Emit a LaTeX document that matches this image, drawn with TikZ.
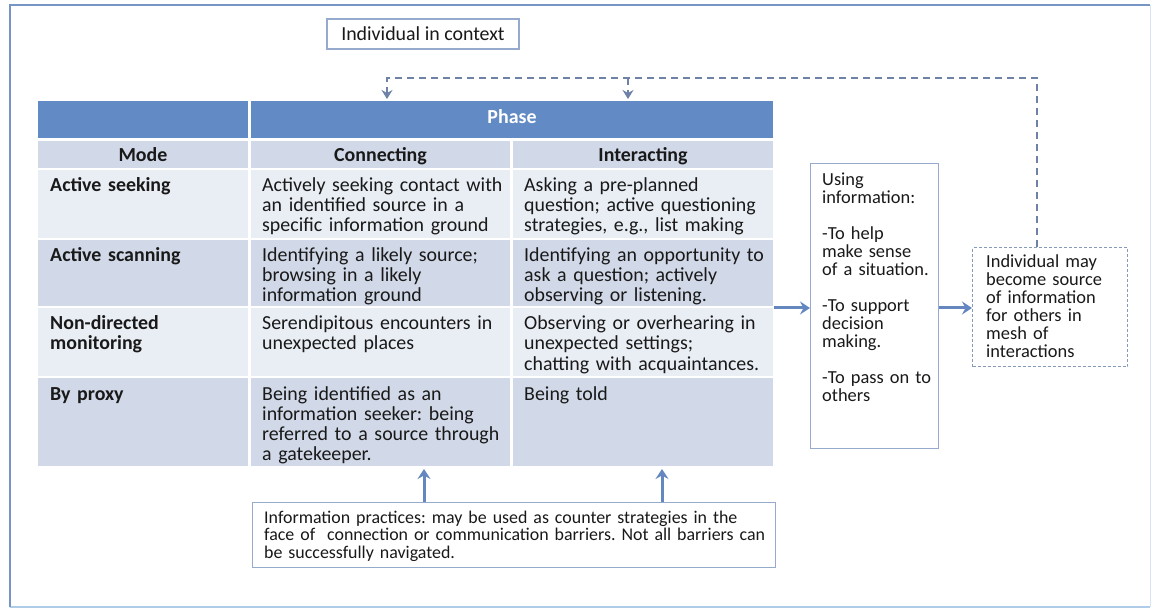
\documentclass[tikz,border=0pt]{standalone}
\usepackage{fontspec}
\setmainfont{Carlito}
\usetikzlibrary{arrows.meta}
\frenchspacing
\definecolor{hdrblue}{RGB}{98,139,198}
\definecolor{subhdr}{RGB}{209,216,231}
\definecolor{rowlight}{RGB}{233,237,244}
\definecolor{rowdark}{RGB}{209,216,231}
\definecolor{txtcol}{RGB}{25,25,25}
\definecolor{arrcol}{RGB}{100,135,192}
\definecolor{dashcol}{RGB}{110,130,168}
\definecolor{boxcol}{RGB}{150,170,205}
\definecolor{framecol}{RGB}{118,148,196}
\definecolor{framelight}{RGB}{175,205,232}
\newcommand\tabfont{\fontsize{19.9}{20}\selectfont}
\newcommand\sidefont{\fontsize{18.4}{18}\selectfont}
\newcommand\pracfont{\fontsize{17.9}{17.5}\selectfont}
\begin{document}
\begin{tikzpicture}[x=1pt,y=-1pt,
  cell/.style={rectangle, inner sep=0pt, outer sep=0pt, anchor=north west, draw=none},
  ttext/.style={anchor=base west, inner sep=0pt, text width=300pt, align=left, font=\tabfont, text=txtcol},
  tlabel/.style={ttext, font=\tabfont\bfseries},
  thead/.style={anchor=base, inner sep=0pt, font=\tabfont\bfseries, text=txtcol},
  stext/.style={anchor=base west, inner sep=0pt, text width=300pt, align=left, font=\sidefont, text=txtcol},
  framebox/.style={rectangle, draw=boxcol, line width=1.3pt, inner sep=0pt, anchor=north west},
  dotbox/.style={rectangle, draw=boxcol!90!black, line width=1.1pt, dash pattern=on 3pt off 2pt, inner sep=0pt, anchor=north west},
  arr/.style={draw=arrcol, line width=3pt, -{Stealth[length=10pt,width=13pt,inset=3.5pt]}},
  dconn/.style={draw=dashcol, line width=2.5pt, dash pattern=on 7pt off 5pt, -{Stealth[length=9pt,width=11pt,inset=3pt]}}
]
\useasboundingbox (0,0) rectangle (1153,609);
\fill[white] (0,0) rectangle (1153,609);
% outer frame
\draw[framelight, line width=2pt] (10,607) -- (1150,607);
\draw[framelight!50!white, line width=1pt] (1150,5) -- (1150,607);
\draw[framecol, line width=2.8pt] (10,607) -- (10,5) -- (1150,5);

% individual in context
\node[rectangle, draw=boxcol, line width=1.3pt, minimum width=192pt, minimum height=30pt, inner sep=0pt, font=\tabfont, text=txtcol] (ctx) at (423,34) {Individual in context};

% table cells
\node[cell, fill=hdrblue, minimum width=210pt, minimum height=37pt] (h0) at (38,101) {};
\node[cell, fill=hdrblue, minimum width=522pt, minimum height=37pt] (phase) at (251,101) {};
\node[cell, fill=subhdr, minimum width=210pt, minimum height=27pt] (m0) at (38,141) {};
\node[cell, fill=subhdr, minimum width=259pt, minimum height=27pt] (m1) at (251,141) {};
\node[cell, fill=subhdr, minimum width=260pt, minimum height=27pt] (m2) at (513,141) {};

\node[cell, fill=rowlight, minimum width=210pt, minimum height=68pt] (r1c0) at (38,170) {};
\node[cell, fill=rowlight, minimum width=259pt, minimum height=68pt] (r1c1) at (251,170) {};
\node[cell, fill=rowlight, minimum width=260pt, minimum height=68pt] (r1c2) at (513,170) {};

\node[cell, fill=rowdark, minimum width=210pt, minimum height=66pt] (r2c0) at (38,240) {};
\node[cell, fill=rowdark, minimum width=259pt, minimum height=66pt] (r2c1) at (251,240) {};
\node[cell, fill=rowdark, minimum width=260pt, minimum height=66pt] (r2c2) at (513,240) {};

\node[cell, fill=rowlight, minimum width=210pt, minimum height=68pt] (r3c0) at (38,308) {};
\node[cell, fill=rowlight, minimum width=259pt, minimum height=68pt] (r3c1) at (251,308) {};
\node[cell, fill=rowlight, minimum width=260pt, minimum height=68pt] (r3c2) at (513,308) {};

\node[cell, fill=rowdark, minimum width=210pt, minimum height=88pt] (r4c0) at (38,378) {};
\node[cell, fill=rowdark, minimum width=259pt, minimum height=88pt] (r4c1) at (251,378) {};
\node[cell, fill=rowdark, minimum width=260pt, minimum height=88pt] (r4c2) at (513,378) {};

% header texts
\node[thead, text=white] (tphase) at ([yshift=14pt]phase.south) {Phase};
\node[thead] (tmode) at ([yshift=6pt]m0.south) {Mode};
\node[thead] (tconn) at ([yshift=6pt]m1.south) {Connecting};
\node[thead] (tint) at ([yshift=6pt]m2.south) {Interacting};

% row texts
\node[tlabel] (l1) at ([xshift=12pt,yshift=-22pt]r1c0.north west) {Active seeking};
\node[ttext] (t11) at ([xshift=11pt,yshift=-22pt]r1c1.north west) {Actively seeking contact with\\an identified source in a\\specific information ground};
\node[ttext] (t12) at ([xshift=11pt,yshift=-22pt]r1c2.north west) {Asking a pre-planned\\question; active questioning\\strategies, e.g., list making};

\node[tlabel] (l2) at ([xshift=12pt,yshift=-22pt]r2c0.north west) {Active scanning};
\node[ttext] (t21) at ([xshift=11pt,yshift=-22pt]r2c1.north west) {Identifying a likely source;\\browsing in a likely\\information ground};
\node[ttext] (t22) at ([xshift=11pt,yshift=-22pt]r2c2.north west) {Identifying an opportunity to\\ask a question; actively\\observing or listening.};

\node[tlabel] (l3) at ([xshift=12pt,yshift=-22pt]r3c0.north west) {Non-directed\\monitoring};
\node[ttext] (t31) at ([xshift=11pt,yshift=-22pt]r3c1.north west) {Serendipitous encounters in\\unexpected places};
\node[ttext] (t32) at ([xshift=11pt,yshift=-22pt]r3c2.north west) {Observing or overhearing in\\unexpected settings;\\chatting with acquaintances.};

\node[tlabel] (l4) at ([xshift=12pt,yshift=-22pt]r4c0.north west) {By proxy};
\node[ttext] (t41) at ([xshift=11pt,yshift=-22pt]r4c1.north west) {Being identified as an\\information seeker: being\\referred to a source through\\a gatekeeper.};
\node[ttext] (t42) at ([xshift=11pt,yshift=-22pt]r4c2.north west) {Being told};

% using information box
\node[framebox, minimum width=128pt, minimum height=285pt] (use) at (810,163) {};
\node[stext] (tuse) at ([xshift=12pt,yshift=-23pt]use.north west) {Using\\information:\\[18pt]-To help\\make sense\\of a situation.\\[18pt]-To support\\decision\\making.\\[18pt]-To pass on to\\others};

% individual may become source box
\node[dotbox, minimum width=155pt, minimum height=119pt] (src) at (972,247) {};
\node[stext] (tsrc) at ([xshift=14pt,yshift=-21pt]src.north west) {Individual may\\become source\\of information\\for others in\\mesh of\\interactions};

% information practices box
\node[framebox, minimum width=523pt, minimum height=65pt] (prac) at (252,502) {};
\node[stext, font=\pracfont, text width=520pt] (tprac) at ([xshift=12pt,yshift=-21pt]prac.north west) {Information practices: may be used as counter strategies in the\\face of\ \ connection or communication barriers. Not all barriers can\\be successfully navigated.};

% connectors
\coordinate (top1) at (387,78);
\coordinate (top2) at (628,78);
\draw[dconn, shorten >=2pt] ([xshift=-13pt]src.north) |- (top1) -- (top1 |- phase.north);
\draw[dconn, shorten >=2pt] (top2) -- (top2 |- phase.north);

\draw[arr] ([xshift=1pt]r3c2.north east) -- (r3c2.north east -| use.west);
\draw[arr] (use.east |- r3c2.north east) -- (src.west |- r3c2.north east);

\draw[arr, shorten >=3pt] ([xshift=172pt]prac.north west) -- ([xshift=172pt]prac.north west |- r4c1.south);
\draw[arr, shorten >=3pt] ([xshift=410pt]prac.north west) -- ([xshift=410pt]prac.north west |- r4c2.south);
\end{tikzpicture}
\end{document}
